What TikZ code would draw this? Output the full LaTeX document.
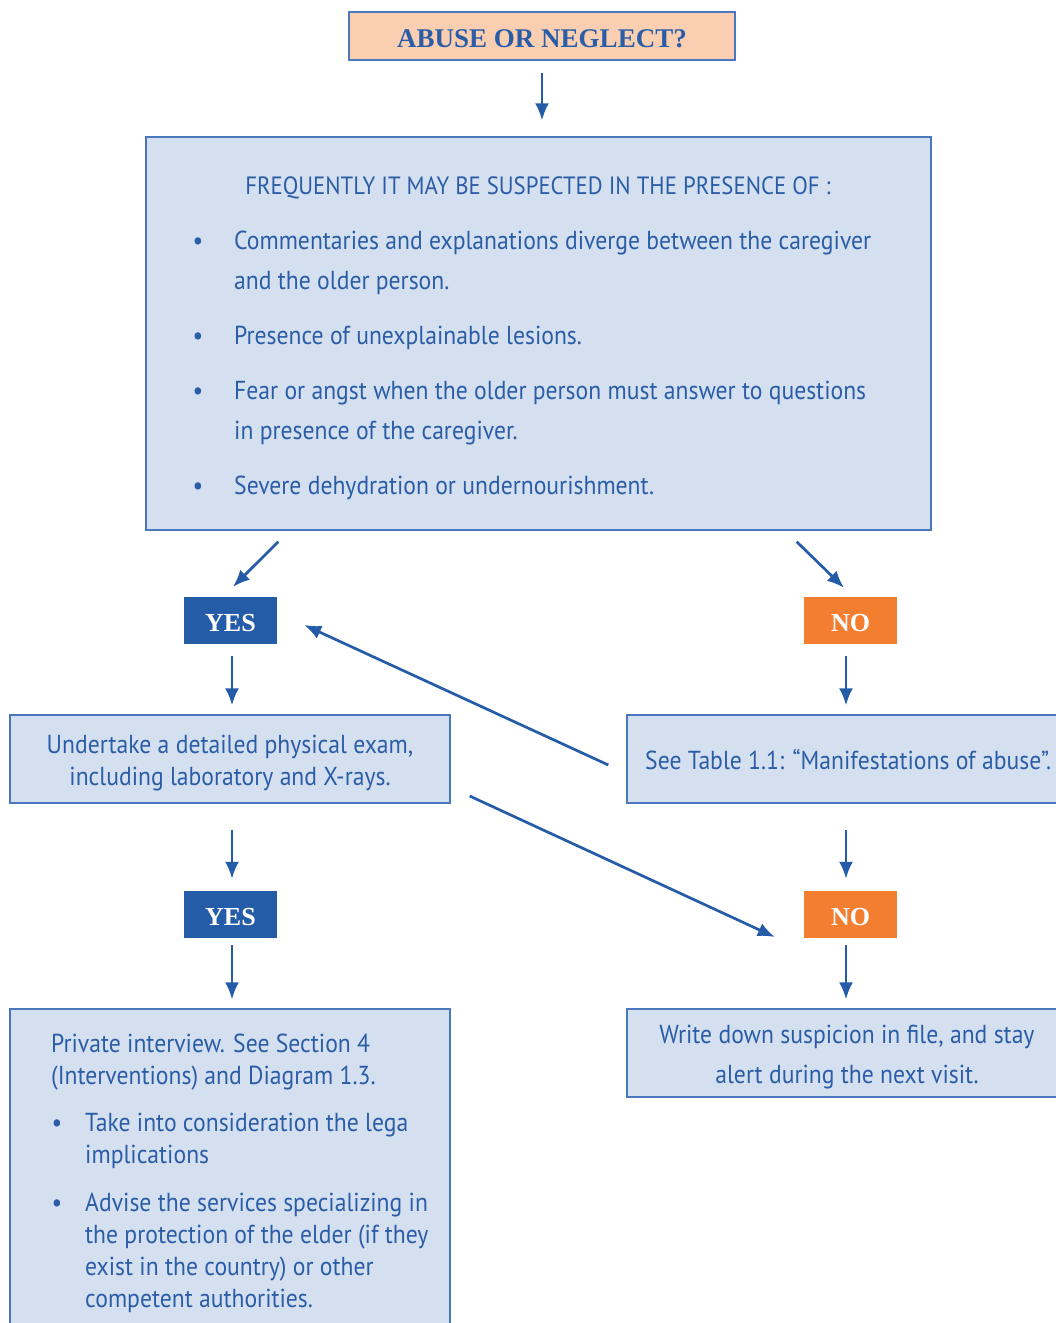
\documentclass[tikz,border=0pt]{standalone}
\usepackage{fontspec}
\setmainfont{PT Sans}[FakeStretch=0.91]
\newfontfamily\headfont{Liberation Serif}
\usetikzlibrary{arrows.meta,calc}
\definecolor{txtblue}{HTML}{2B5DA7}
\definecolor{boxfill}{HTML}{D4E0EF}
\definecolor{bordblue}{HTML}{4A77BD}
\definecolor{yesblue}{HTML}{245CA8}
\definecolor{noorange}{HTML}{F47E2F}
\definecolor{peach}{HTML}{F9CEB1}
\begin{document}
\begin{tikzpicture}[x=1pt,y=-1pt,
  box/.style={draw=bordblue, fill=boxfill, line width=1.3pt, rectangle, inner sep=0pt},
  tag/.style={rectangle, inner sep=0pt, minimum width=93pt, minimum height=47pt, text height=22pt, text depth=0pt, text=white, font=\headfont\bfseries\fontsize{26}{30}\selectfont},
  yestag/.style={tag, fill=yesblue},
  notag/.style={tag, fill=noorange},
  txt/.style={text=txtblue, inner sep=0pt, font=\fontsize{26}{30}\selectfont},
  bul/.style={txt, anchor=base},
  arr/.style={draw=yesblue, line width=2.7pt, -{Latex[length=17pt,width=14pt]}}
]
\useasboundingbox (0,0) rectangle (1056,1323);
\begin{scope}
\clip (0,0) rectangle (1056,1323);
% boxes
\node[box, fill=peach, minimum width=386pt, minimum height=48pt, text height=22pt, text depth=0pt, font=\headfont\bfseries\fontsize{27}{30}\selectfont, text=txtblue] (top) at (542,36) {ABUSE OR NEGLECT?};
\node[box, minimum width=785pt, minimum height=393pt] (main) at (538.5,333.5) {};
\node[yestag] (yes1) at (230.5,620.5) {YES};
\node[notag] (no1) at (850.5,620.5) {NO};
\node[box, minimum width=440pt, minimum height=88pt] (exam) at (230,759) {};
\node[box, minimum width=435pt, minimum height=88pt] (see) at (844.5,759) {};
\node[yestag] (yes2) at (230.5,914.5) {YES};
\node[notag] (no2) at (850.5,914.5) {NO};
\node[box, minimum width=440pt, minimum height=321pt] (priv) at (230,1169.5) {};
\node[box, minimum width=435pt, minimum height=88pt] (write) at (844.5,1053) {};
% main text
\node[txt, anchor=base, font=\fontsize{25}{30}\selectfont] (mt0) at (538,194) {FREQUENTLY IT MAY BE SUSPECTED IN THE PRESENCE OF :};
\node[bul] (mb1) at (198,249) {•};
\node[txt, anchor=base west] (mt1) at (234,249) {Commentaries and explanations diverge between the caregiver};
\node[txt, anchor=base west] (mt1b) at (234,289) {and the older person.};
\node[bul] (mb2) at (198,344) {•};
\node[txt, anchor=base west] (mt2) at (234,344) {Presence of unexplainable lesions.};
\node[bul] (mb3) at (198,399) {•};
\node[txt, anchor=base west] (mt3) at (234,399) {Fear or angst when the older person must answer to questions};
\node[txt, anchor=base west] (mt3b) at (234,439) {in presence of the caregiver.};
\node[bul] (mb4) at (198,494) {•};
\node[txt, anchor=base west] (mt4) at (234,494) {Severe dehydration or undernourishment.};
% exam text
\node[txt, anchor=base] (et1) at (230,753) {Undertake a detailed physical exam,};
\node[txt, anchor=base] (et2) at (230,785) {including laboratory and X-rays.};
% see text
\node[txt, anchor=base west] (st1) at (645,769) {See Table 1.1: “Manifestations of abuse”.};
% write text
\node[txt, anchor=base] (wt1) at (847,1043) {Write down suspicion in file, and stay};
\node[txt, anchor=base] (wt2) at (847,1083) {alert during the next visit.};
% private text
\node[txt, anchor=base west] (pt1) at (51,1052) {Private interview. See Section 4};
\node[txt, anchor=base west] (pt2) at (51,1084) {(Interventions) and Diagram 1.3.};
\node[bul] (pb1) at (57,1131) {•};
\node[txt, anchor=base west] (pt3) at (85,1131) {Take into consideration the lega};
\node[txt, anchor=base west] (pt4) at (85,1163) {implications};
\node[bul] (pb2) at (57,1211) {•};
\node[txt, anchor=base west] (pt5) at (85,1211) {Advise the services specializing in};
\node[txt, anchor=base west] (pt6) at (85,1243) {the protection of the elder (if they};
\node[txt, anchor=base west] (pt7) at (85,1275) {exist in the country) or other};
\node[txt, anchor=base west] (pt8) at (85,1307) {competent authorities.};
% arrows
\draw[arr, shorten <=12pt, shorten >=16pt] (top.south) -- (top.south |- main.north);
\draw[arr] ($(main.south west)+(133,11)$) -- ($(yes1.north)+(2.5,-10)$);
\draw[arr] ($(main.south east)+(-135,11)$) -- ($(no1.north)+(-6.5,-9)$);
\draw[arr, shorten <=12pt, shorten >=9pt] ($(yes1.south)+(1.5,0)$) -- ($(yes1.south |- exam.north)+(1.5,0)$);
\draw[arr, shorten <=12pt, shorten >=9pt] ($(no1.south)+(-4.5,0)$) -- ($(no1.south |- see.north)+(-4.5,0)$);
\draw[arr] ($(see.west)+(-18,6)$) -- ($(yes1.east)+(27,4.5)$);
\draw[arr] ($(exam.east)+(19,37)$) -- ($(no2.west)+(-29,22.5)$);
\draw[arr, shorten <=26pt, shorten >=12pt] ($(exam.south)+(2,0)$) -- ($(exam.south |- yes2.north)+(2,0)$);
\draw[arr, shorten <=26pt, shorten >=12pt] ($(no2.north |- see.south)+(-4.5,0)$) -- ($(no2.north)+(-4.5,0)$);
\draw[arr, shorten <=7pt, shorten >=9pt] ($(yes2.south)+(1.5,0)$) -- ($(yes2.south |- priv.north)+(1.5,0)$);
\draw[arr, shorten <=7pt, shorten >=9pt] ($(no2.south)+(-4.5,0)$) -- ($(no2.south |- write.north)+(-4.5,0)$);
\end{scope}
\end{tikzpicture}
\end{document}
